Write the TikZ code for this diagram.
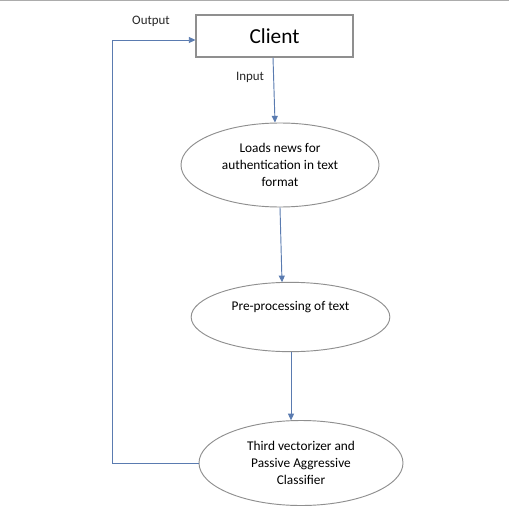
\documentclass[tikz,border=0pt]{standalone}
\usepackage{fontspec}
\setmainfont{Carlito}
\usetikzlibrary{shapes.geometric,arrows.meta,calc}
\definecolor{flow}{HTML}{5A7BB0}
\definecolor{rim}{HTML}{8F8F8F}
\tikzset{
  client/.style={draw=rim, line width=0.8pt, minimum width=117.75pt, minimum height=31.5pt, inner sep=0pt, font=\fontsize{16}{19}\selectfont},
  stage/.style={ellipse, draw=rim, line width=0.7pt, inner sep=0pt, align=center, font=\fontsize{10}{12.75}\selectfont},
  tag/.style={font=\fontsize{9.7}{11}\selectfont, text=black!85},
  flowline/.style={draw=flow, line width=0.7pt, -{Triangle[length=5pt,width=4.5pt]}}
}
\begin{document}
\begin{tikzpicture}[x=0.75pt, y=-0.75pt]
  \useasboundingbox (0,0) rectangle (509,510);
  \fill[white] (0,0) rectangle (509,510);
  % thin rule along the upper edge
  \draw[gray!65, line width=1.2pt] (0,0.6) -- (509,0.6);

  \node[client] (client) at (274.5,36) {Client};
  \node[stage, minimum width=148.5pt, minimum height=63pt] (load) at (280,165)
    {Loads news for\\authentication in text\\format};
  \node[stage, minimum width=149pt, minimum height=52pt,
        label={[stage, draw=none, yshift=7.5pt]center:Pre-processing of text}] (prep) at (290.5,317) {};
  \node[stage, minimum width=153pt, minimum height=63.75pt] (clf) at (301,463)
    {Third vectorizer and\\Passive Aggressive\\Classifier};

  \node[tag] (outlbl) at (151,21) {Output};
  \node[tag] (inlbl) at (250,77) {Input};

  % main flow
  \draw[flowline] ($(client.south)+(-1.5,0)$) -- ($(load.north)+(-5,0)$);
  \draw[flowline] (load.south) -- ($(prep.north)+(-8.5,0.4)$);
  \draw[flowline] ($(prep.south)+(0.5,0)$) -- ($(clf.north)+(-10,0.3)$);
  % result returned to the client
  \draw[flowline] (clf.west) -- ++(-86,0) |- ($(client.west)+(0,4)$);
\end{tikzpicture}
\end{document}
